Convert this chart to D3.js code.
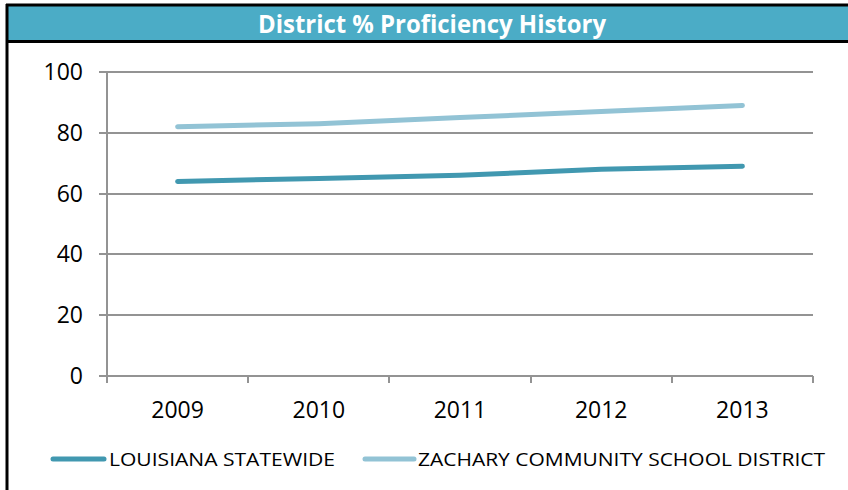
<!DOCTYPE html>
<html>
<head>
<meta charset="utf-8">
<script src="https://cdn.jsdelivr.net/npm/d3@7"></script>
<style>
  html, body { margin: 0; padding: 0; background: #fff; }
  svg { display: block; }
  text { font-family: "Open Sans", sans-serif; }
</style>
</head>
<body>
<svg id="chart" width="848" height="490"></svg>
<script>
const years = ["2009", "2010", "2011", "2012", "2013"];
const louisiana = [64, 65, 66, 68, 69];
const zachary = [82, 83, 85, 87, 89];
const yTicks = [0, 20, 40, 60, 80, 100];
const seriesNames = ["LOUISIANA STATEWIDE", "ZACHARY COMMUNITY SCHOOL DISTRICT"];
const seriesColors = ["#4198B0", "#92C3D5"];
const title = "District % Proficiency History";

const svg = d3.select("#chart");

// frame
svg.append("rect").attr("x", 6).attr("y", 4).attr("width", 850).attr("height", 37)
  .attr("fill", "#4BACC6");
svg.append("line").attr("x1", 6).attr("x2", 848).attr("y1", 5).attr("y2", 5)
  .attr("stroke", "#000").attr("stroke-width", 3);
svg.append("line").attr("x1", 6).attr("x2", 848).attr("y1", 41.5).attr("y2", 41.5)
  .attr("stroke", "#000").attr("stroke-width", 3);
svg.append("line").attr("x1", 7).attr("x2", 7).attr("y1", 4).attr("y2", 490)
  .attr("stroke", "#000").attr("stroke-width", 3);

svg.append("text").attr("x", 432).attr("y", 33).attr("text-anchor", "middle")
  .attr("fill", "#fff").attr("font-weight", "bold").attr("font-size", 25)
  .attr("textLength", 348).attr("lengthAdjust", "spacingAndGlyphs")
  .text(title);

const x = d3.scaleBand().domain(years).range([107, 813]).paddingInner(0).paddingOuter(0);
const y = d3.scaleLinear().domain([0, 100]).range([376, 72]);
const cx = d => x(d) + x.bandwidth() / 2;

const grid = "#939393";
// gridlines
svg.append("g").selectAll("line").data(yTicks).join("line")
  .attr("x1", 99).attr("x2", 813)
  .attr("y1", d => Math.round(y(d))).attr("y2", d => Math.round(y(d)))
  .attr("stroke", grid).attr("stroke-width", 2);
// y axis line
svg.append("line").attr("x1", 107).attr("x2", 107).attr("y1", y(100)).attr("y2", y(0) + 7)
  .attr("stroke", grid).attr("stroke-width", 2);
// x ticks at band boundaries
const bounds = years.map(d => x(d)).concat([x(years[years.length - 1]) + x.bandwidth()]);
svg.append("g").selectAll("line").data(bounds.slice(1)).join("line")
  .attr("x1", d => Math.round(d)).attr("x2", d => Math.round(d))
  .attr("y1", y(0)).attr("y2", y(0) + 7)
  .attr("stroke", grid).attr("stroke-width", 2);

// y labels
svg.append("g").selectAll("text").data(yTicks).join("text")
  .attr("x", 83).attr("y", d => y(d) + 8)
  .attr("text-anchor", "end").attr("font-size", 23).attr("fill", "#000")
  .text(d => d);
// x labels
svg.append("g").selectAll("text").data(years).join("text")
  .attr("x", d => cx(d)).attr("y", 418)
  .attr("text-anchor", "middle").attr("font-size", 23).attr("fill", "#000")
  .text(d => d);

// lines
const line = d3.line().x((d, i) => cx(years[i])).y(d => y(d));
[louisiana, zachary].forEach((s, i) => {
  svg.append("path").attr("d", line(s)).attr("fill", "none")
    .attr("stroke", seriesColors[i]).attr("stroke-width", 5)
    .attr("stroke-linecap", "round").attr("stroke-linejoin", "round");
});

// legend
const leg = [
  {x1: 53, x2: 104, tx: 109, tw: 226},
  {x1: 365, x2: 414, tx: 418, tw: 407}
];
leg.forEach((l, i) => {
  svg.append("line").attr("x1", l.x1).attr("x2", l.x2).attr("y1", 459).attr("y2", 459)
    .attr("stroke", seriesColors[i]).attr("stroke-width", 5).attr("stroke-linecap", "round");
  svg.append("text").attr("x", l.tx).attr("y", 466).attr("font-size", 19).attr("fill", "#000")
    .attr("textLength", l.tw).attr("lengthAdjust", "spacingAndGlyphs")
    .text(seriesNames[i]);
});
</script>
</body>
</html>
